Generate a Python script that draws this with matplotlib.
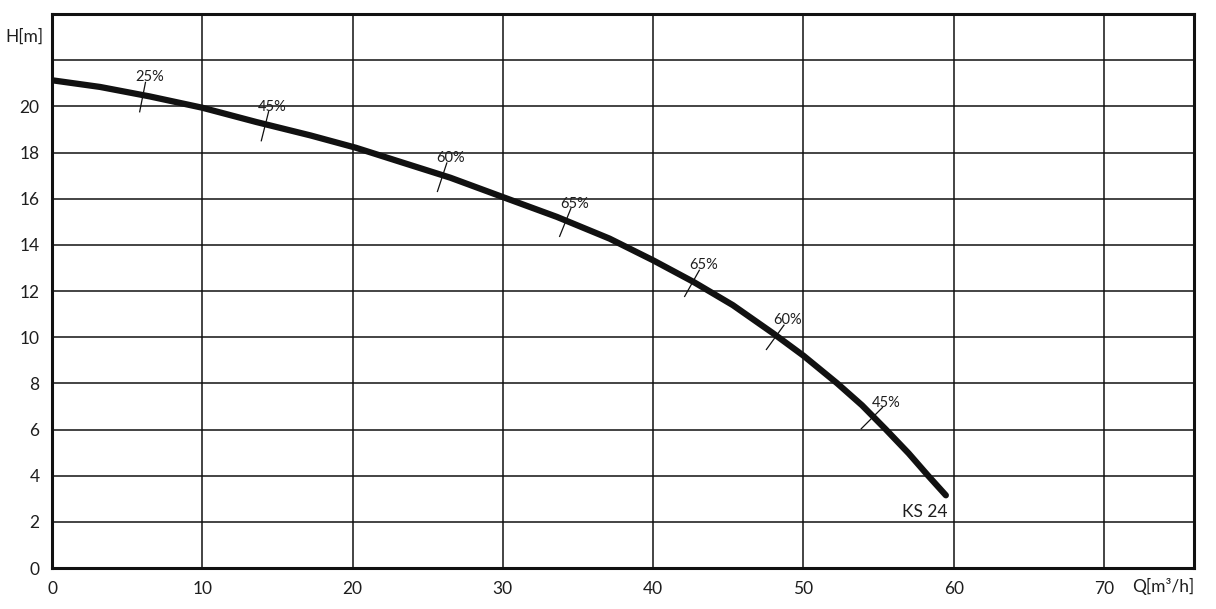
import numpy as np
import matplotlib
matplotlib.use("Agg")
import matplotlib.pyplot as plt

plt.rcParams['font.family'] = ['Lato', 'DejaVu Sans']

# pump curve KS 24
q = [0, 3.2, 6.5, 10, 13.6, 17.2, 20.2, 23.15, 26.5, 30, 33.6, 37.1, 40,
     42.7, 45.3, 48, 50, 52.25, 53.9, 55.49, 57.0, 58.3, 59.48]
h = [21.13, 20.84, 20.43, 19.94, 19.32, 18.74, 18.21, 17.6, 16.91, 16.07, 15.21, 14.27, 13.33,
     12.39, 11.39, 10.16, 9.2, 8.0, 7.05, 6.0, 4.97, 4.0, 3.15]

# efficiency marks along the curve
eff_q = [6.05, 14.2, 26.0, 34.2, 42.65, 48.2, 54.65]
eff_lab = ['25%', '45%', '60%', '65%', '65%', '60%', '45%']

xticks = [0, 10, 20, 30, 40, 50, 60, 70]
yticks = [0, 2, 4, 6, 8, 10, 12, 14, 16, 18, 20, 22]
ylabels = ['0', '2', '4', '6', '8', '10', '12', '14', '16', '18', '20', '']

txt = '#1e1e1e'

fig = plt.figure(figsize=(12.16, 6.09), dpi=100)
ax = fig.add_axes([0.0428, 0.0673, 0.9392, 0.9097])
ax.set_xlim(0, 76)
ax.set_ylim(0, 24)

ax.set_xticks(xticks)
ax.set_xticklabels([str(v) for v in xticks])
ax.set_yticks(yticks)
ax.set_yticklabels(ylabels)
ax.tick_params(length=0, labelsize=12.5, labelcolor=txt, pad=9)
ax.grid(True, color='#111111', linewidth=1.1)
ax.set_axisbelow(True)
for s in ax.spines.values():
    s.set_linewidth(2.2)
    s.set_color('#111111')

ax.plot(q, h, color='#111111', linewidth=4.5, solid_capstyle='round',
        solid_joinstyle='round', zorder=3)

# short ticks normal to the curve, in pixel space
tr = ax.transData
inv = tr.inverted()
for xq, lab in zip(eff_q, eff_lab):
    yq = np.interp(xq, q, h)
    p0 = tr.transform((xq, yq))
    pa = tr.transform((xq - 1, np.interp(xq - 1, q, h)))
    pb = tr.transform((xq + 1, np.interp(xq + 1, q, h)))
    t = (pb - pa) / np.hypot(*(pb - pa))
    n = np.array([-t[1], t[0]])
    if n[1] < 0:
        n = -n
    top = p0 + 13 * n
    bot = p0 - 17 * n
    d = inv.transform([bot, top])
    ax.plot(d[:, 0], d[:, 1], color='#111111', linewidth=0.9, zorder=4)
    lp = inv.transform(top + np.array([4, -2]))
    ax.text(lp[0], lp[1], lab, ha='center', va='bottom', fontsize=10.5, color=txt, zorder=5)

ax.annotate('KS 24', (q[-1], h[-1]), xytext=(1, -6), textcoords='offset points',
            ha='right', va='top', fontsize=12.5, color=txt)

ax.text(-9 / 15.03, 23, 'H[m]', ha='right', va='center', fontsize=12.5, color=txt)
ax.text(76, -10 / 23.1, 'Q[m³/h]', ha='right', va='top', fontsize=12.5, color=txt)

fig.savefig('out.png', dpi=100)
